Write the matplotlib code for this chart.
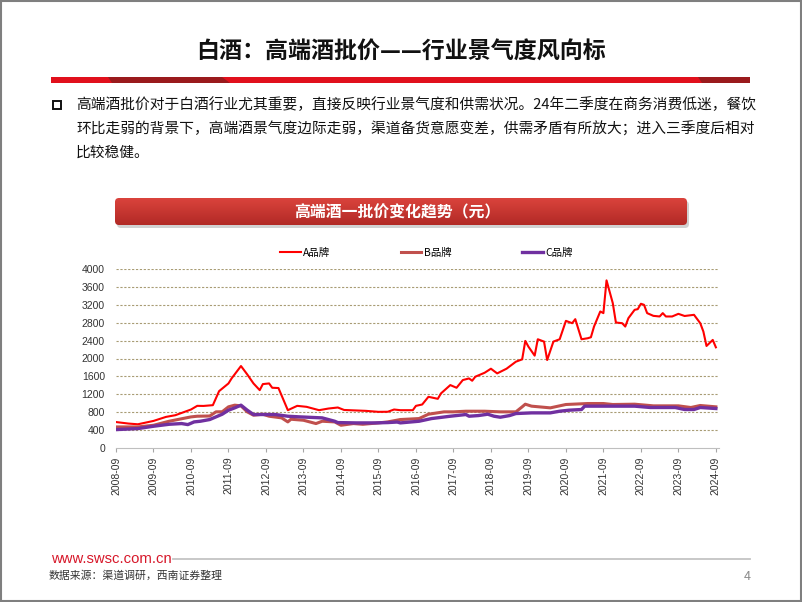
import matplotlib.pyplot as plt
from matplotlib.patches import Rectangle, Polygon, FancyBboxPatch
from matplotlib.colors import LinearSegmentedColormap
import numpy as np

plt.rcParams['font.family'] = ['Noto Sans CJK SC', 'DejaVu Sans']

# x = month index counted from 2008-09 (0 = 2008-09, 192 = 2024-09)
a_month = [0, 4, 7, 12, 16, 19, 24, 26, 28, 31, 33, 36, 37, 40, 42, 44, 46, 47, 49, 50,
           52, 55, 58, 61, 65, 68, 71, 73, 80, 84, 87, 89, 91, 95, 96, 98, 100, 103, 104,
           107, 109, 111, 113, 114, 115, 118, 120, 122, 125, 128, 130, 131, 132, 134, 135,
           137, 138, 140, 142, 144, 146, 147, 149, 151, 152, 153, 155, 156, 157, 159, 160,
           162, 163, 164, 166, 167, 168, 169, 170, 172, 174, 175, 176, 178, 180, 182, 185,
           187, 188, 189, 191, 192]
a_price = [580, 546, 530, 605, 695, 733, 860, 942, 940, 957, 1271, 1443, 1555, 1832, 1645,
           1443, 1293, 1428, 1443, 1346, 1340, 845, 942, 920, 845, 882, 905, 850, 830, 808,
           810, 860, 845, 845, 942, 972, 1144, 1099, 1219, 1406, 1346, 1518, 1555, 1503,
           1593, 1682, 1772, 1667, 1772, 1929, 1981, 2393, 2265, 2064, 2430, 2378, 1966,
           2378, 2430, 2841, 2789, 2879, 2430, 2453, 2475, 2714, 3051, 3014, 3746, 3238,
           2804, 2789, 2714, 2901, 3088, 3103, 3223, 3200, 3014, 2953, 2939, 3014, 2939,
           2939, 2998, 2950, 2976, 2789, 2602, 2280, 2415, 2250]

b_month = [0, 7, 12, 17, 24, 26, 30, 32, 34, 36, 38, 40, 42, 44, 47, 49, 53, 55, 56, 60,
           64, 66, 70, 72, 76, 79, 84, 87, 91, 97, 100, 105, 108, 112, 118, 123, 128, 130,
           131, 133, 139, 144, 151, 156, 159, 166, 172, 180, 184, 187, 192]
b_price = [471, 471, 508, 598, 695, 710, 715, 808, 810, 920, 957, 942, 808, 733, 755, 710,
           673, 583, 643, 620, 546, 598, 583, 508, 546, 530, 561, 583, 636, 658, 755, 808,
           808, 822, 822, 808, 808, 920, 979, 935, 897, 972, 994, 994, 972, 979, 942, 942,
           905, 950, 920]

c_month = [0, 7, 12, 17, 21, 23, 25, 27, 30, 34, 36, 38, 40, 42, 44, 48, 51, 55, 59, 66,
           70, 71, 77, 83, 87, 90, 91, 97, 101, 107, 112, 113, 116, 119, 121, 123, 126, 128,
           133, 139, 142, 145, 149, 150, 155, 166, 171, 179, 182, 185, 187, 192]
c_price = [411, 434, 486, 530, 546, 523, 583, 598, 636, 755, 845, 897, 957, 845, 748, 748,
           748, 710, 695, 673, 598, 568, 561, 561, 568, 580, 561, 598, 658, 710, 748, 710,
           725, 755, 710, 688, 725, 770, 785, 785, 822, 845, 860, 935, 935, 935, 905, 905,
           860, 860, 905, 882]

series_names = ['A品牌', 'B品牌', 'C品牌']
tick_labels = ['2008-09', '2009-09', '2010-09', '2011-09', '2012-09', '2013-09', '2014-09',
               '2015-09', '2016-09', '2017-09', '2018-09', '2019-09', '2020-09', '2021-09',
               '2022-09', '2023-09', '2024-09']
y_ticks = [0, 400, 800, 1200, 1600, 2000, 2400, 2800, 3200, 3600, 4000]

title = '白酒：高端酒批价——行业景气度风向标'
body = ['高端酒批价对于白酒行业尤其重要，直接反映行业景气度和供需状况。24年二季度在商务消费低迷，餐饮',
        '环比走弱的背景下，高端酒景气度边际走弱，渠道备货意愿变差，供需矛盾有所放大；进入三季度后相对',
        '比较稳健。']
banner = '高端酒一批价变化趋势（元）'
source = '数据来源：渠道调研，西南证券整理'

W, H = 802, 602
fig = plt.figure(figsize=(W / 100, H / 100), dpi=100)

# page decorations in pixel coordinates
bg = fig.add_axes([0, 0, 1, 1], zorder=0)
bg.axis('off')

bg.add_patch(Rectangle((0.5, 0.5), W - 1.5, H - 1.5, fill=False, ec='#7f7f7f', lw=1.5))
bg.text(401, 52, title, ha='center', va='center', fontsize=16.6, fontweight='bold', color='#111111')

# red rule under title with darker segments
bg.add_patch(Rectangle((51, 77), 699, 6, color='#e1101c', lw=0))
bg.add_patch(Polygon([(108, 77), (222, 77), (230, 83), (112, 83)], color='#9a1a1c', lw=0))
bg.add_patch(Polygon([(698, 77), (750, 77), (750, 83), (702, 83)], color='#9a1a1c', lw=0))

bg.add_patch(Rectangle((52.5, 100.5), 8, 8, fill=False, ec='#111111', lw=1.4))
for i, line in enumerate(body):
    bg.text(76, 105 + i * 24, line, ha='left', va='center', fontsize=10.6, color='#111111')

# banner with gradient
bg.add_patch(FancyBboxPatch((117, 201), 572, 27, boxstyle='round,pad=0,rounding_size=4',
                            fc='#9a9a9a', ec='none', alpha=0.45))
box = FancyBboxPatch((115, 198), 572, 27, boxstyle='round,pad=0,rounding_size=4',
                     fc='none', ec='none')
bg.add_patch(box)
grad = np.linspace(0, 1, 50).reshape(-1, 1)
cm = LinearSegmentedColormap.from_list('bn', ['#da433c', '#b22a26'])
im = bg.imshow(grad, cmap=cm, extent=(115, 687, 225, 198), aspect='auto', zorder=1)
im.set_clip_path(box)
bg.text(397, 212, banner, ha='center', va='center', fontsize=11.4, fontweight='bold',
        color='white', zorder=2)

# footer
bg.text(51, 559, 'www.swsc.com.cn', ha='left', va='center', fontsize=10.7, color='#d7182a',
        family=['Liberation Sans'])
bg.plot([173, 750], [559, 559], color='#c4c4c4', lw=1.3)
bg.text(49, 576, source, ha='left', va='center', fontsize=7.8, color='#333333', style='italic')
bg.text(751, 576, '4', ha='right', va='center', fontsize=9, color='#8c8c8c')

bg.set_xlim(0, W)
bg.set_ylim(H, 0)

# chart
ax = fig.add_axes([116 / W, 1 - 448 / H, (719 - 116) / W, (448 - 269) / H], zorder=2)
ax.patch.set_alpha(0)
ax.plot(a_month, a_price, color='#ff0000', lw=1.5, label=series_names[0])
ax.plot(b_month, b_price, color='#c0504d', lw=2.2, label=series_names[1])
ax.plot(c_month, c_price, color='#7030a0', lw=2.4, label=series_names[2])

ax.set_xlim(0, 193)
ax.set_ylim(0, 4000)
ax.set_yticks(y_ticks)
ax.set_yticklabels([str(v) for v in y_ticks], family=['Liberation Sans'], fontsize=7.5,
                   color='#333333')
ax.set_xticks(np.arange(0, 193, 12))
ax.set_xticklabels(tick_labels, rotation=90, family=['Liberation Sans'], fontsize=7.5,
                   color='#333333')
ax.tick_params(axis='y', length=0, pad=8)
ax.tick_params(axis='x', length=3, color='#a6a6a6', pad=3)
for sp in ['top', 'right', 'left']:
    ax.spines[sp].set_visible(False)
ax.spines['bottom'].set_color('#bfbfbf')
for v in y_ticks[1:]:
    ax.axhline(v, color='#a89c74', lw=0.8, ls=(0, (2, 1.5)), zorder=0)

ax.legend(loc='center', bbox_to_anchor=(426 / W, 1 - 253 / H), bbox_transform=fig.transFigure,
          ncol=3, frameon=False, fontsize=7.5, handlelength=2.0, handletextpad=0.2,
          columnspacing=6.8)

fig.savefig('out.png', dpi=100)
